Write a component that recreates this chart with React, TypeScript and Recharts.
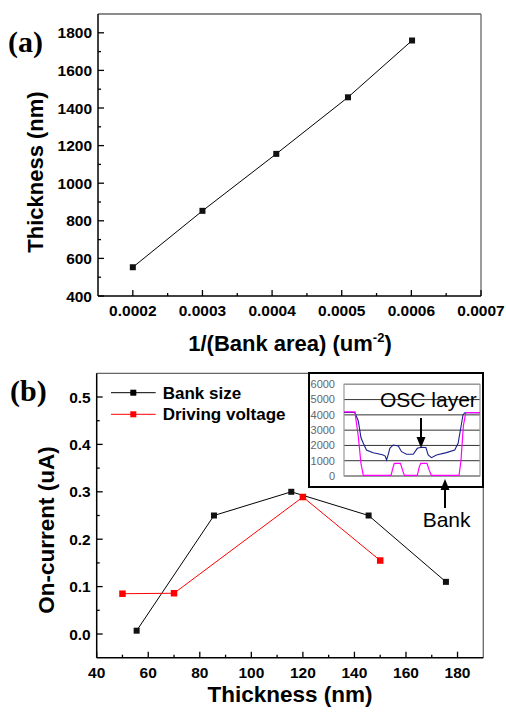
import React from 'react'
import { LineChart, Line, XAxis, YAxis, Legend, ReferenceLine, ReferenceArea, CartesianGrid } from 'recharts'

const SANS = '"Liberation Sans", Arial, Helvetica, sans-serif'
const SERIF = '"Liberation Serif", "Times New Roman", serif'

// (a) thickness vs 1/(bank area)
const invArea = [0.0002, 0.0003, 0.000406, 0.000509, 0.000601]
const thickA = [553, 853, 1156, 1457, 1759]
const aXMajor = [0.0002, 0.0003, 0.0004, 0.0005, 0.0006, 0.0007]
const aXMinor = [0.00025, 0.00035, 0.00045, 0.00055, 0.00065]
const aYMajor = [400, 600, 800, 1000, 1200, 1400, 1600, 1800]
const aYMinor = [500, 700, 900, 1100, 1300, 1500, 1700]

// (b) on-current vs thickness
const bankThk = [55.5, 85.5, 115.5, 145.5, 175.5]
const bankCur = [0.007, 0.25, 0.3, 0.25, 0.11]
const voltThk = [50, 70, 120, 150]
const voltCur = [0.085, 0.086, 0.289, 0.155]
const bXMajor = [40, 60, 80, 100, 120, 140, 160, 180]
const bXMinor = [50, 70, 90, 110, 130, 150, 170]
const bYMajor = [0, 0.1, 0.2, 0.3, 0.4, 0.5]
const bYMinor = [0.05, 0.15, 0.25, 0.35, 0.45]

// inset profile (position in % of scan, height)
const oscPos = [0, 8, 10.5, 12.5, 14.2, 16.5, 21.4, 25, 28.8, 30.3, 31.3, 32.5, 33.7, 36.2, 39.9, 42.3, 46, 50.9, 53.9, 57, 60.2, 61.9, 64.3, 68, 75.3, 81.4, 83.9, 85.6, 87.5, 88.8, 100]
const oscH = [4150, 4150, 3600, 2500, 2140, 1700, 1525, 1450, 1374, 1300, 1050, 1400, 1810, 2030, 1960, 1590, 1420, 1420, 1810, 1880, 1860, 1374, 1200, 1374, 1530, 1700, 2140, 3010, 4000, 4140, 4140]
const bankPos = [0, 8, 10.5, 12.5, 14.2, 34.6, 36, 37, 41.5, 43, 44.4, 53.9, 55.2, 56.4, 61, 62.6, 64.2, 84.6, 86, 87.8, 89.5, 100]
const bankH = [4200, 4200, 2600, 800, 40, 40, 550, 830, 830, 400, 40, 40, 550, 830, 830, 400, 40, 40, 1000, 3300, 4150, 4150]
const insetTicks = [0, 1000, 2000, 3000, 4000, 5000, 6000]

const pts = (xs: number[], ys: number[]) => xs.map((x, i) => ({ x, y: ys[i] }))

function BottomTick(props: any) {
  const { x, y, payload, majors, fmt } = props
  const major = majors.includes(payload.value)
  return (
    <g>
      <line x1={x} x2={x} y1={y} y2={y - (major ? 6 : 3)} stroke="#000" strokeWidth={1.3} />
      {major && (
        <text x={x} y={y + 20} textAnchor="middle" fontFamily={SANS} fontWeight="bold" fontSize={15.5} fill="#000">
          {fmt(payload.value)}
        </text>
      )}
    </g>
  )
}

function LeftTick(props: any) {
  const { x, y, payload, majors, fmt } = props
  const major = majors.includes(payload.value)
  return (
    <g>
      <line x1={x} x2={x + (major ? 6 : 3)} y1={y} y2={y} stroke="#000" strokeWidth={1.3} />
      {major && (
        <text x={x - 6} y={y + 5.5} textAnchor="end" fontFamily={SANS} fontWeight="bold" fontSize={15.5} fill="#000">
          {fmt(payload.value)}
        </text>
      )}
    </g>
  )
}

const square = (fill: string, s: number) => (p: any) => (
  <rect key={p.index} x={p.cx - s / 2} y={p.cy - s / 2} width={s} height={s} fill={fill} />
)

function LegendBox(props: any) {
  const items = props.payload || []
  return (
    <svg width={200} height={44}>
      {items.map((it: any, i: number) => {
        const cy = 9.7 + i * 21.6
        return (
          <g key={it.value}>
            <line x1={0} x2={44.7} y1={cy} y2={cy} stroke={it.color} strokeWidth={1} />
            <rect x={22.3 - 3} y={cy - 3} width={6} height={6} fill={it.color} />
            <text x={51.7} y={cy + 6} fontFamily={SANS} fontWeight="bold" fontSize={17} fill="#000">{it.value}</text>
          </g>
        )
      })}
    </svg>
  )
}

export default function App() {
  const dataA = pts(invArea, thickA)
  const bank = pts(bankThk, bankCur)
  const volt = pts(voltThk, voltCur)
  const osc = pts(oscPos, oscH)
  const bankProf = pts(bankPos, bankH)

  return (
    <div style={{ position: 'absolute', left: 0, top: 0, width: 506, height: 713, background: '#fff', overflow: 'hidden' }}>
      <div style={{ position: 'absolute', left: 0, top: 0 }}>
        <LineChart width={506} height={360} margin={{ top: 14, right: 25, bottom: 0, left: 0 }}>
          <XAxis
            type="number" dataKey="x" domain={[0.00015, 0.0007]} height={64}
            ticks={[...aXMajor, ...aXMinor]} interval={0} tickSize={0} tickMargin={0}
            axisLine={{ stroke: '#000', strokeWidth: 1.5 }} tickLine={false}
            tick={(p: any) => <BottomTick {...p} majors={aXMajor} fmt={(v: number) => v.toFixed(4)} />}
          />
          <YAxis
            type="number" dataKey="y" domain={[400, 1900]} width={98}
            ticks={[...aYMajor, ...aYMinor]} interval={0} tickSize={0} tickMargin={0}
            axisLine={{ stroke: '#000', strokeWidth: 1.5 }} tickLine={false}
            tick={(p: any) => <LeftTick {...p} majors={aYMajor} fmt={(v: number) => String(v)} />}
          />
          <ReferenceLine y={1900} stroke="#666" strokeWidth={1.3} />
          <ReferenceLine x={0.0007} stroke="#666" strokeWidth={1.3} />
          <Line data={dataA} dataKey="y" stroke="#000" strokeWidth={1} dot={square('#111', 6)} isAnimationActive={false} />
        </LineChart>
      </div>

      <div style={{ position: 'absolute', left: 0, top: 360 }}>
        <LineChart width={506} height={353} margin={{ top: 13.3, right: 22.7, bottom: 0, left: 0 }}>
          <XAxis
            type="number" dataKey="x" domain={[40, 190]} height={55.3} allowDataOverflow
            ticks={[...bXMajor, ...bXMinor]} interval={0} tickSize={0} tickMargin={0}
            axisLine={{ stroke: '#000', strokeWidth: 1.5 }} tickLine={false}
            tick={(p: any) => <BottomTick {...p} majors={bXMajor} fmt={(v: number) => String(v)} />}
          />
          <YAxis
            type="number" dataKey="y" domain={[-0.05, 0.55]} width={96.7} allowDataOverflow
            ticks={[...bYMajor, ...bYMinor]} interval={0} tickSize={0} tickMargin={0}
            axisLine={{ stroke: '#000', strokeWidth: 1.5 }} tickLine={false}
            tick={(p: any) => <LeftTick {...p} majors={bYMajor} fmt={(v: number) => v.toFixed(1)} />}
          />
          <ReferenceLine y={0.55} stroke="#666" strokeWidth={1.3} />
          <ReferenceLine x={190} stroke="#666" strokeWidth={1.3} />
          <Legend
            layout="vertical" align="center" verticalAlign="middle"
            wrapperStyle={{ left: 111, top: 23, width: 200 }}
            content={(p: any) => <LegendBox {...p} />}
          />
          <Line name="Bank size" data={bank} dataKey="y" stroke="#000" strokeWidth={1} dot={square('#111', 6)} isAnimationActive={false} />
          <Line name="Driving voltage" data={volt} dataKey="y" stroke="#ff0000" strokeWidth={1} dot={square('#ff0000', 6.5)} isAnimationActive={false} />
        </LineChart>
      </div>

      <div style={{ position: 'absolute', left: 308, top: 372, width: 176, height: 116, border: '2px solid #000', boxSizing: 'border-box', background: '#fff' }}>
        <LineChart width={172} height={112} margin={{ top: 10.3, right: 2, bottom: 10, left: 0 }}>
          <CartesianGrid vertical={false} stroke="#333" strokeWidth={1} />
          <XAxis type="number" dataKey="x" domain={[0, 100]} hide />
          <YAxis
            type="number" domain={[0, 6000]} ticks={insetTicks} interval={0} width={34}
            axisLine={false} tickLine={false} tickSize={0} tickMargin={9}
            tick={{ fontSize: 11, fill: '#666', fontFamily: SANS }}
          />
          <ReferenceArea x1={0} x2={100} y1={0} y2={6000} fill="none" fillOpacity={0} stroke="#999" strokeWidth={1.2} />
          <Line data={osc} dataKey="y" stroke="#1c1f8a" strokeWidth={1.1} dot={false} isAnimationActive={false} />
          <Line data={bankProf} dataKey="y" stroke="#ff00ff" strokeWidth={1.2} dot={false} isAnimationActive={false} />
        </LineChart>
      </div>

      <svg width={506} height={713} style={{ position: 'absolute', left: 0, top: 0, pointerEvents: 'none' }}>
        <text x={8} y={52} fontFamily={SERIF} fontWeight="bold" fontSize={30}>(a)</text>
        <text x={10} y={401} fontFamily={SERIF} fontWeight="bold" fontSize={30}>(b)</text>

        <text x={290} y={351} textAnchor="middle" fontFamily={SANS} fontWeight="bold" fontSize={22}>
          <tspan>1/(Bank area) (um</tspan>
          <tspan dy={-9} fontSize={13}>-2</tspan>
          <tspan dy={9}>)</tspan>
        </text>
        <text x={43} y={172} transform="rotate(-90 43 172)" textAnchor="middle" fontFamily={SANS} fontWeight="bold" fontSize={22}>Thickness (nm)</text>

        <text x={290} y={702} textAnchor="middle" fontFamily={SANS} fontWeight="bold" fontSize={22.5}>Thickness (nm)</text>
        <text x={54} y={530} transform="rotate(-90 54 530)" textAnchor="middle" fontFamily={SANS} fontWeight="bold" fontSize={22.5}>On-current (uA)</text>

        <text x={380} y={407} fontFamily={SANS} fontSize={21}>OSC layer</text>
        <line x1={421} x2={421} y1={418} y2={440} stroke="#000" strokeWidth={2} />
        <polygon points="416.5,437 425.5,437 421,448" fill="#000" />

        <text x={422.7} y={526.7} fontFamily={SANS} fontSize={21}>Bank</text>
        <line x1={445} x2={445} y1={508} y2={487} stroke="#000" strokeWidth={2} />
        <polygon points="440.5,490 449.5,490 445,479" fill="#000" />
      </svg>
    </div>
  )
}
